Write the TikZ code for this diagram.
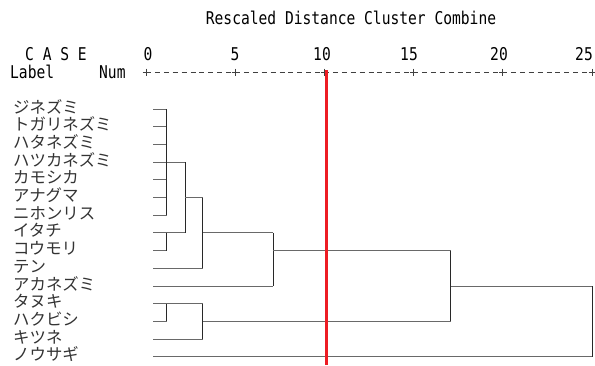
\documentclass[tikz,border=0pt]{standalone}
\usepackage{fontspec}
\newfontfamily\jpfont{Noto Sans CJK JP}
\newfontfamily\monofont[FakeStretch=0.83]{DejaVu Sans Mono}
\definecolor{cutred}{RGB}{237,28,36}
\definecolor{hbranch}{RGB}{105,105,105}
\definecolor{vbranch}{RGB}{40,40,40}
\tikzset{
  monotext/.style={font=\monofont\fontsize{17.6}{18}\selectfont, inner sep=0pt, anchor=base},
  leaflabel/.style={font=\jpfont\fontsize{16.4}{17}\selectfont, inner sep=0pt, anchor=base west, text=black!80},
  hlink/.style={draw=hbranch, line width=1pt},
  vlink/.style={draw=vbranch, line width=1pt},
  axisline/.style={draw=black!75, line width=0.8pt, dash pattern=on 5pt off 3.9pt},
  tickmark/.style={draw=black!75, line width=0.8pt},
  cutline/.style={draw=cutred, line width=3pt}
}
\begin{document}
\begin{tikzpicture}[x=1pt,y=-1pt]
\useasboundingbox (0,0) rectangle (595,365);

% header
\node[monotext] (title) at (351,24) {Rescaled Distance Cluster Combine};
\node[monotext, anchor=base west] (case) at (25,60) {C A S E};
\node[monotext, anchor=base west] (lab) at (10,78) {Label};
\node[monotext, anchor=base west] (num) at (99,78) {Num};
\node[monotext] (n0) at (148,60) {0};
\node[monotext] (n5) at (235,60) {5};
\node[monotext] (n10) at (322,60) {10};
\node[monotext] (n15) at (409,60) {15};
\node[monotext] (n20) at (499,60) {20};
\node[monotext, anchor=base east] (n25) at (593,60) {25};

% distance axis
\coordinate (ax0) at (146,72);
\coordinate (ax25) at (592,72);
\draw[axisline] (ax0) -- (ax25);
\foreach \t in {146,235.2,324.4,413.6,502.8,592}{
  \draw[tickmark] (\t-3.5,72) -- (\t+3.5,72) (\t,68.5) -- (\t,75.5);
}

% column positions of the joins
\coordinate (xa) at (166.7,0);
\coordinate (xb) at (185,0);
\coordinate (xc) at (202.7,0);
\coordinate (xd) at (273.3,0);
\coordinate (xe) at (450.7,0);
\coordinate (xf) at (592,0);

% leaves
\foreach \i/\name in {1/ジネズミ,2/トガリネズミ,3/ハタネズミ,4/ハツカネズミ,5/カモシカ,
  6/アナグマ,7/ニホンリス,8/イタチ,9/コウモリ,10/テン,11/アカネズミ,12/タヌキ,
  13/ハクビシ,14/キツネ,15/ノウサギ}{
  \pgfmathsetmacro{\ry}{109+(\i-1)*17.7}
  \coordinate (l\i) at (153,\ry);
  \node[leaflabel] (t\i) at (13,\ry+4) {\name};
}

% cluster of leaves 1-7
\foreach \i in {1,...,7}{ \draw[hlink] (l\i) -- (l\i -| xa); }
\draw[vlink] (l1 -| xa) -- (l7 -| xa);
% leaves 8,9
\draw[hlink] (l8) -- (l8 -| xa);
\draw[hlink] (l9) -- (l9 -| xa);
\draw[vlink] (l8 -| xa) -- (l9 -| xa);
% join at xb
\draw[hlink] (l4 -| xa) -- (l4 -| xb);
\draw[hlink] (l8 -| xa) -- (l8 -| xb);
\draw[vlink] (l4 -| xb) -- (l8 -| xb);
% join with leaf 10 at xc
\draw[hlink] (l6 -| xb) -- (l6 -| xc);
\draw[hlink] (l10) -- (l10 -| xc);
\draw[vlink] (l6 -| xc) -- (l10 -| xc);
% join with leaf 11 at xd
\draw[hlink] (l8 -| xc) -- (l8 -| xd);
\draw[hlink] (l11) -- (l11 -| xd);
\draw[vlink] (l8 -| xd) -- (l11 -| xd);
% leaves 12,13 and 14
\draw[hlink] (l12) -- (l12 -| xa);
\draw[hlink] (l13) -- (l13 -| xa);
\draw[vlink] (l12 -| xa) -- (l13 -| xa);
\draw[hlink] (l12 -| xa) -- (l12 -| xc);
\draw[hlink] (l14) -- (l14 -| xc);
\draw[vlink] (l12 -| xc) -- (l14 -| xc);
% join of the two groups at xe
\draw[hlink] (l9 -| xd) -- (l9 -| xe);
\draw[hlink] (l13 -| xc) -- (l13 -| xe);
\draw[vlink] (l9 -| xe) -- (l13 -| xe);
% final join with leaf 15
\draw[hlink] (l11 -| xe) -- (l11 -| xf);
\draw[hlink] (l15) -- (l15 -| xf);
\draw[vlink] (l11 -| xf) -- (l15 -| xf);

% cut line
\coordinate (cuttop) at (326,70);
\coordinate (cutbot) at (326,365);
\draw[cutline] (cuttop) -- (cutbot);
\end{tikzpicture}
\end{document}
